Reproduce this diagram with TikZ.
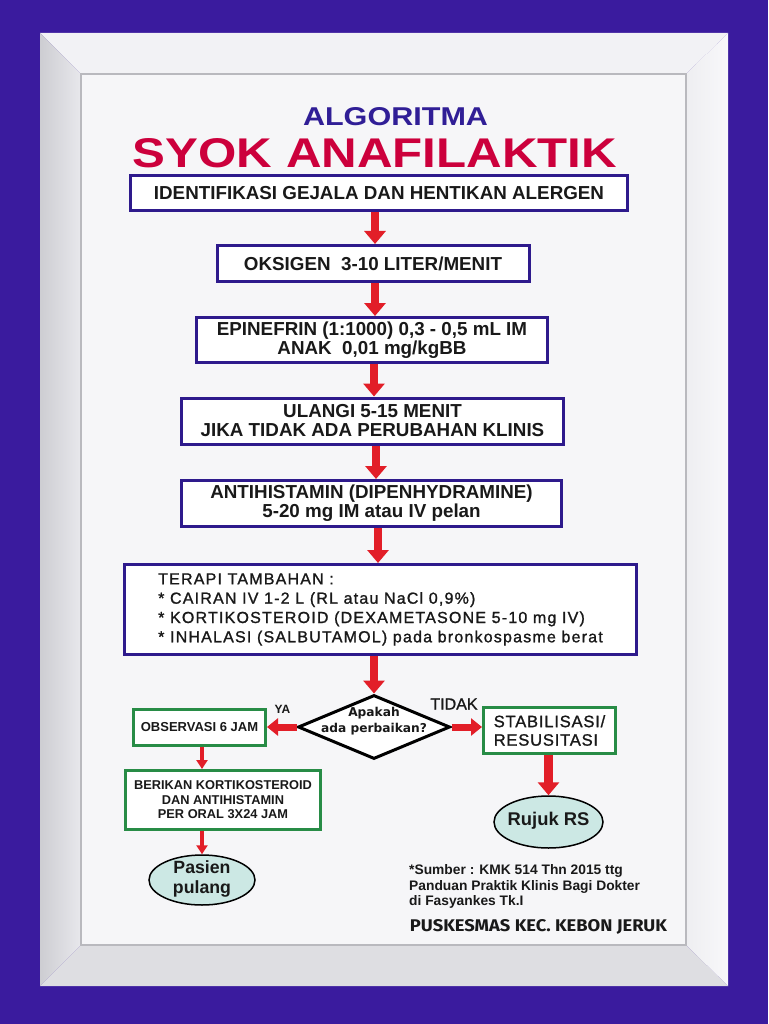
\documentclass[tikz,border=0pt]{standalone}
\usepackage{graphicx}
\usepackage{fontspec}
\setmainfont{Liberation Sans}
\newfontfamily\dvfont{DejaVu Sans}
\newfontfamily\firafont{Fira Sans}
\newfontfamily\semifont[FakeBold=1.2]{Liberation Sans}
\usetikzlibrary{arrows.meta,shapes.geometric}
\definecolor{frameblue}{RGB}{58,27,158}
\definecolor{boxblue}{RGB}{46,26,140}
\definecolor{titleblue}{RGB}{48,30,150}
\definecolor{crimson}{RGB}{204,0,60}
\definecolor{arrred}{RGB}{226,30,40}
\definecolor{boxgreen}{RGB}{40,140,70}
\definecolor{ellfill}{RGB}{204,232,228}
\definecolor{panel}{RGB}{246,246,248}
\definecolor{txt}{RGB}{25,25,25}
\definecolor{bevtop}{RGB}{242,242,245}
\definecolor{bevleftA}{RGB}{205,205,210}
\definecolor{bevleftB}{RGB}{232,232,236}
\definecolor{bevrightA}{RGB}{238,238,241}
\definecolor{bevrightB}{RGB}{248,248,250}
\definecolor{bevbot}{RGB}{222,222,226}
\definecolor{paneledge}{RGB}{185,185,190}
\begin{document}
\begin{tikzpicture}[x=1pt,y=-1pt,
  bluebox/.style={draw=boxblue, line width=3pt, fill=white, inner sep=0pt, align=center, text=txt,
    font=\bfseries\fontsize{18.8}{19}\selectfont},
  greenbox/.style={draw=boxgreen, line width=3pt, fill=white, inner sep=0pt, align=center, text=txt},
  ellnode/.style={ellipse, draw=black, line width=1.5pt, fill=ellfill, inner sep=0pt},
  bigarr/.style={draw=arrred, line width=8.5pt, -{Triangle[length=13pt,width=21pt]}},
  midarr/.style={draw=arrred, line width=7pt, -{Triangle[length=11pt,width=17pt]}},
  smallarr/.style={draw=arrred, line width=4pt, -{Triangle[length=9pt,width=11pt]}},
  plaintext/.style={inner sep=0pt, text=txt}
]
\useasboundingbox (0,0) rectangle (768,1024);
% frame
\fill[frameblue] (0,0) rectangle (768,1024);
\fill[bevtop] (40,33) -- (728,33) -- (686,74) -- (81,74) -- cycle;
\shade[left color=bevleftA, right color=bevleftB] (40,33) -- (81,74) -- (81,945) -- (40,986) -- cycle;
\shade[left color=bevrightA, right color=bevrightB] (728,33) -- (686,74) -- (686,945) -- (728,986) -- cycle;
\fill[bevbot] (40,986) -- (81,945) -- (686,945) -- (728,986) -- cycle;
\fill[panel] (81,74) rectangle (686,945);
\draw[paneledge, line width=1.2pt] (81,74) rectangle (686,945);

% titles
\node[inner sep=0pt, text=titleblue] (alg) at (395.5,117) {\resizebox{185pt}{18pt}{\bfseries ALGORITMA}};
\node[inner sep=0pt, text=crimson] (syok) at (375,153.5) {\resizebox{484pt}{29pt}{\bfseries SYOK ANAFILAKTIK}};

% main column
\node[bluebox, minimum width=497pt, minimum height=35pt] (b1) at (379,193) {IDENTIFIKASI GEJALA DAN HENTIKAN ALERGEN};
\node[bluebox, minimum width=312pt, minimum height=36pt] (b2) at (373,263.5) {OKSIGEN\ \ 3-10 LITER/MENIT};
\node[bluebox, minimum width=351pt, minimum height=45pt] (b3) at (372,340) {EPINEFRIN (1:1000) 0,3 - 0,5 mL IM\\ANAK\ \ 0,01 mg/kgBB};
\node[bluebox, minimum width=382pt, minimum height=46pt] (b4) at (372.5,421) {ULANGI 5-15 MENIT\\JIKA TIDAK ADA PERUBAHAN KLINIS};
\node[bluebox, minimum width=380pt, minimum height=46pt] (b5) at (371.5,503.5) {ANTIHISTAMIN (DIPENHYDRAMINE)\\5-20 mg IM atau IV pelan};
\node[bluebox, minimum width=512pt, minimum height=90pt, align=left,
  font=\semifont\fontsize{16}{19.3}\selectfont\addfontfeature{LetterSpace=7.5}] (b6) at (380.5,609.5)
  {TERAPI TAMBAHAN :\\* CAIRAN IV 1-2 L (RL atau NaCl 0,9\%)\\* KORTIKOSTEROID (DEXAMETASONE 5-10 mg IV)\\* INHALASI (SALBUTAMOL) pada bronkospasme berat};

% decision
\node[diamond, draw=black, line width=3pt, fill=white, inner sep=0pt, minimum width=152pt, minimum height=64pt] (d) at (374,727) {};
\node[plaintext, align=center, font=\dvfont\bfseries\fontsize{12.2}{16}\selectfont] (dq) at (374,721) {Apakah\\ada perbaikan?};
\node[plaintext, font=\bfseries\fontsize{12}{12}\selectfont] (ya) at (282.5,709) {YA};
\node[plaintext, font=\semifont\fontsize{16}{16}\selectfont] (tidak) at (454,704) {TIDAK};

% left branch
\node[greenbox, minimum width=132pt, minimum height=36pt, font=\bfseries\fontsize{13}{13}\selectfont] (obs) at (199.5,727.5) {OBSERVASI 6 JAM};
\node[greenbox, minimum width=195pt, minimum height=59pt, font=\bfseries\fontsize{12.8}{14.5}\selectfont] (ber) at (223,800) {BERIKAN KORTIKOSTEROID\\DAN ANTIHISTAMIN\\PER ORAL 3X24 JAM};
\node[ellnode, minimum width=106pt, minimum height=50pt] (pas) at (202,880) {};
\node[plaintext, align=center, font=\bfseries\fontsize{17.7}{20}\selectfont] (pastext) at (202,879) {Pasien\\pulang};

% right branch
\node[greenbox, minimum width=132pt, minimum height=46pt, align=left, font=\semifont\fontsize{16.5}{18.5}\selectfont\addfontfeature{LetterSpace=5}] (stab) at (549.5,730.5) {STABILISASI/\\RESUSITASI};
\node[ellnode, minimum width=109pt, minimum height=52pt] (rj) at (548.5,822) {};
\node[plaintext, font=\bfseries\fontsize{18.4}{20}\selectfont] (rjtext) at (548.5,821) {Rujuk RS};

% connectors
\coordinate (k375) at (375,0);
\coordinate (k374) at (374,0);
\coordinate (k376) at (376,0);
\coordinate (k378) at (378,0);
\coordinate (k202) at (202,0);
\draw[bigarr] (b1.south -| k375) -- (b2.north -| k375);
\draw[bigarr] (b2.south -| k375) -- (b3.north -| k375);
\draw[bigarr] (b3.south -| k374) -- (b4.north -| k374);
\draw[bigarr] (b4.south -| k376) -- (b5.north -| k376);
\draw[bigarr] (b5.south -| k378) -- (b6.north -| k378);
\draw[bigarr] (b6.south -| d.north) -- (d.north);
\draw[midarr] (d.west) -- (d.west -| obs.east);
\draw[midarr] (d.east) -- (d.east -| stab.west);
\draw[smallarr] (obs.south -| k202) -- (ber.north -| k202);
\draw[smallarr] (ber.south -| k202) -- (pas.north);
\draw[bigarr] (stab.south -| rj.north) -- (rj.north);

% footer
\node[plaintext, anchor=north west, align=left, font=\bfseries\fontsize{13.8}{15.5}\selectfont] (src) at (409,864.5)
  {*Sumber : KMK 514 Thn 2015 ttg\\Panduan Praktik Klinis Bagi Dokter\\di Fasyankes Tk.I};
\node[plaintext, font=\firafont\bfseries] (pk) at (538.5,927) {\resizebox{257pt}{12pt}{PUSKESMAS KEC. KEBON JERUK}};
\end{tikzpicture}
\end{document}
